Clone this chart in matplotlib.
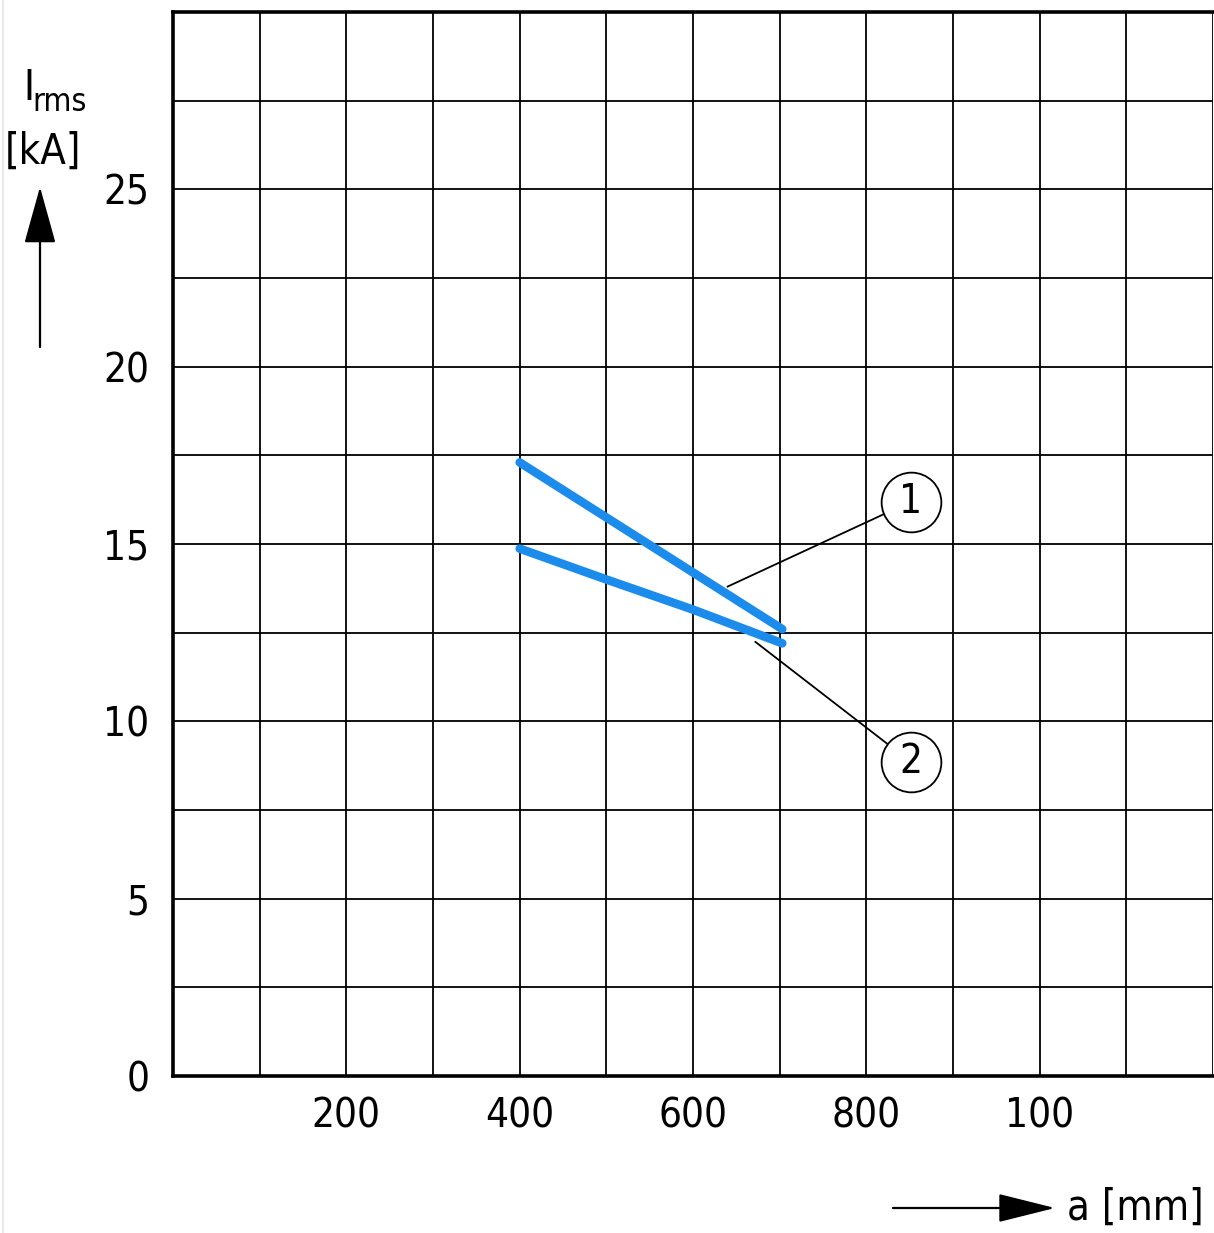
import matplotlib
matplotlib.use('Agg')
import matplotlib.pyplot as plt
from matplotlib import font_manager as fm
from matplotlib.lines import Line2D

W, H, DPI = 1214, 1233, 100

# pick a condensed face if one is installed
names = {f.name for f in fm.fontManager.ttflist}
cond_dejavu = [f for f in fm.fontManager.ttflist
               if f.name == 'DejaVu Sans' and 'Condensed' in f.fname and 'Bold' not in f.fname
               and 'Oblique' not in f.fname]
if 'Liberation Sans Narrow' in names:
    FAM, STRETCH, TS = ['Liberation Sans Narrow', 'DejaVu Sans'], 'normal', 32
elif cond_dejavu:
    FAM, STRETCH, TS = ['DejaVu Sans'], 'condensed', 29
else:
    FAM, STRETCH, TS = ['Liberation Sans', 'DejaVu Sans'], 'normal', 29
plt.rcParams['font.family'] = FAM
plt.rcParams['font.stretch'] = STRETCH

# ---- data ----
a_curve1 = [400, 703]
irms_curve1 = [17.3, 12.6]
a_curve2 = [400, 500, 600, 703]
irms_curve2 = [14.87, 14.0, 13.15, 12.2]

x_grid = [0, 100, 200, 300, 400, 500, 600, 700, 800, 900, 1000, 1100, 1200]
y_grid = [0, 2.5, 5, 7.5, 10, 12.5, 15, 17.5, 20, 22.5, 25, 27.5, 30]
x_tick_pos = [200, 400, 600, 800, 1000]
x_tick_labels = ['200', '400', '600', '800', '100']
y_tick_pos = [0, 5, 10, 15, 20, 25]
y_tick_labels = ['0', '5', '10', '15', '20', '25']

callout_labels = ['1', '2']
callout_a = [851, 851]
callout_i = [16.19, 8.86]
leader_a_from = [640, 672]
leader_i_from = [13.8, 12.24]

# ---- figure ----
fig = plt.figure(figsize=(W / DPI, H / DPI), dpi=DPI)
ax = fig.add_axes([173 / W, (H - 1076) / H, (1213 - 173) / W, (1076 - 12) / H])
ax.set_xlim(0, 1200)
ax.set_ylim(0, 30)

ax.set_xticks(x_grid, minor=True)
ax.set_yticks(y_grid, minor=True)
ax.set_xticks(x_tick_pos)
ax.set_xticklabels(x_tick_labels)
ax.set_yticks(y_tick_pos)
ax.set_yticklabels(y_tick_labels)
ax.grid(True, which='both', color='black', lw=1.3)
ax.set_axisbelow(True)
ax.tick_params(which='both', length=0)
ax.tick_params(axis='x', labelsize=TS, pad=15)
ax.tick_params(axis='y', labelsize=TS, pad=17)

for s in ['left', 'bottom', 'top']:
    ax.spines[s].set_linewidth(2.6)
ax.spines['right'].set_visible(False)

blue = '#1B8CEB'
ax.plot(a_curve1, irms_curve1, color=blue, lw=6.2, solid_capstyle='round', zorder=3)
ax.plot(a_curve2, irms_curve2, color=blue, lw=6.2, solid_capstyle='round', zorder=3)

for lab, ca, ci, fa, fi in zip(callout_labels, callout_a, callout_i, leader_a_from, leader_i_from):
    ax.plot([fa, ca], [fi, ci], color='black', lw=1.3, zorder=4)
    ax.plot([ca], [ci], 'o', ms=43, mfc='white', mec='black', mew=1.3, zorder=5)
    ax.text(ca, ci, lab, ha='center', va='center', fontsize=TS, zorder=6)

# ---- axis labels and arrows (figure pixels) ----
def fx(px):
    return px / W

def fy(py):
    return (H - py) / H

fig.text(fx(23), fy(100), 'I', fontsize=TS + 1, ha='left', va='baseline')
fig.text(fx(32), fy(111), 'rms', fontsize=TS - 6, ha='left', va='baseline')
fig.text(fx(43), fy(164), '[kA]', fontsize=TS + 1, ha='center', va='baseline')

fig.text(fx(1204), fy(1220), 'a [mm]', fontsize=TS + 1, ha='right', va='baseline')

ax.annotate('', xy=(40, H - 187), xytext=(40, H - 347), xycoords='figure pixels',
            textcoords='figure pixels',
            arrowprops=dict(arrowstyle='-|>,head_length=1.8,head_width=0.5', mutation_scale=20,
                            color='black', lw=1.6, shrinkA=0, shrinkB=0))
ax.annotate('', xy=(1055, H - 1208), xytext=(893, H - 1208), xycoords='figure pixels',
            textcoords='figure pixels',
            arrowprops=dict(arrowstyle='-|>,head_length=1.8,head_width=0.45', mutation_scale=20,
                            color='black', lw=1.6, shrinkA=0, shrinkB=0))

# faint left image border as in the reference scan
fig.add_artist(Line2D([fx(3), fx(3)], [0, 1], color='#E8E8E8', lw=1.5))

fig.savefig('out.png', dpi=DPI, facecolor='white')
